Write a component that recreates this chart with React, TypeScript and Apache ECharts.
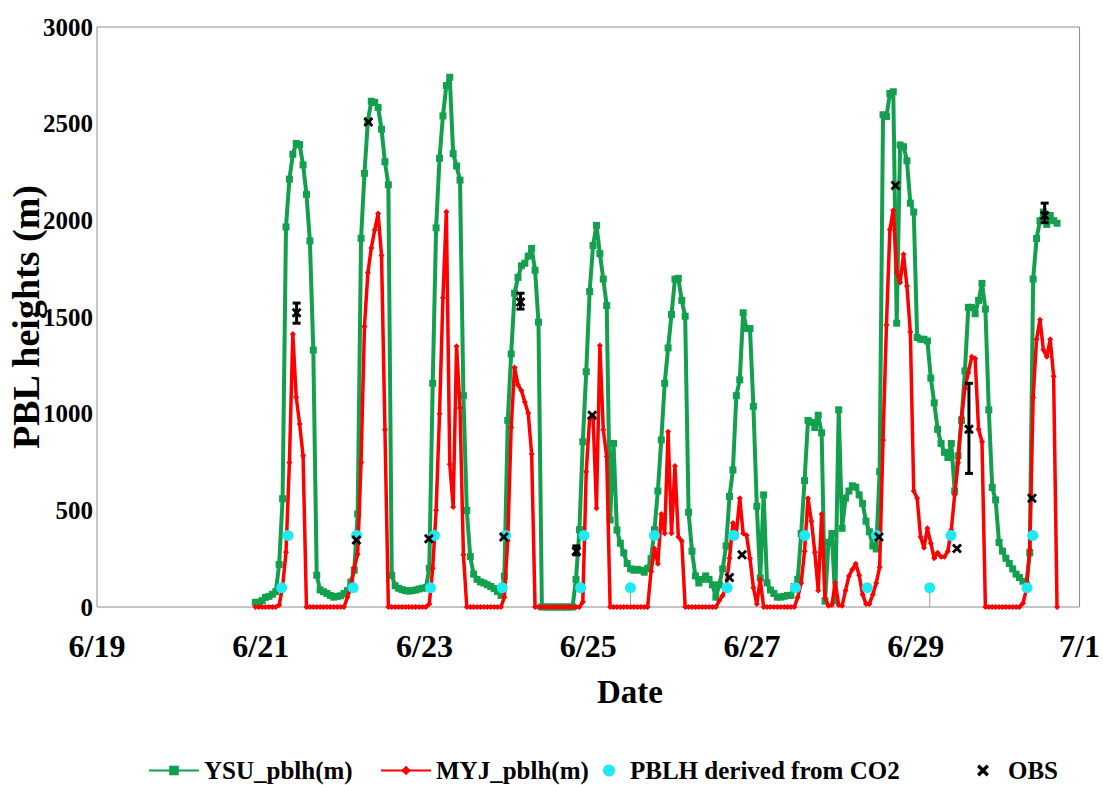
import { useEffect, useRef } from "react";
import * as echarts from "echarts";

// ---------- data ----------
const xTickLabels = ["6/19", "6/21", "6/23", "6/25", "6/27", "6/29", "7/1"];

// hourly model output, first value at 6/20 22:24 (days after 6/19 00:00)
const modelStartDay = 1.9333;

const ysuPblh = [
  24, 25, 33, 50, 55, 66, 79, 220, 560, 1966, 2213, 2342,
  2398, 2392, 2287, 2134, 1893, 1329, 164, 88, 79, 70, 60, 51,
  55, 58, 70, 85, 129, 190, 481, 1907, 2243, 2515, 2616, 2610,
  2584, 2471, 2303, 2184, 164, 110, 97, 90, 85, 82, 85, 88,
  93, 97, 100, 200, 1157, 1961, 2321, 2540, 2697, 2740, 2345, 2281,
  2208, 1093, 499, 261, 170, 143, 130, 124, 115, 106, 95, 80,
  60, 160, 965, 1309, 1623, 1705, 1765, 1778, 1815, 1855, 1742, 1473,
  0, 0, 0, 0, 0, 0, 0, 0, 0, 0, 143, 400,
  855, 1217, 1632, 1870, 1974, 1828, 1696, 1559, 450, 846, 398, 330,
  280, 225, 197, 190, 195, 190, 180, 200, 250, 400, 600, 864,
  1157, 1340, 1513, 1696, 1700, 1586, 1504, 490, 289, 161, 124, 143,
  161, 143, 115, 51, 115, 197, 316, 572, 709, 1093, 1175, 1522,
  1440, 1440, 1038, 521, 150, 580, 125, 88, 70, 51, 51, 55,
  60, 60, 106, 143, 380, 654, 965, 956, 928, 992, 901, 30,
  334, 380, 33, 1020, 407, 563, 600, 627, 620, 580, 535, 444,
  389, 316, 300, 700, 2546, 2537, 2656, 2665, 1468, 2390, 2381, 2308,
  2089, 2043, 1394, 1385, 1385, 1376, 1184, 1056, 919, 846, 800, 773,
  846, 600, 782, 965, 1221, 1550, 1550, 1517, 1586, 1674, 1541, 1020,
  618, 554, 334, 289, 252, 225, 197, 170, 152, 133, 115, 280,
  1696, 1906, 1998, 2043, 1979, 2025, 1998, 1985,
];

const myjPblh = [
  0, 0, 0, 0, 0, 0, 0, 10, 105, 283, 748, 1412,
  1085, 946, 782, 0, 0, 0, 0, 0, 0, 0, 0, 0,
  0, 0, 0, 50, 105, 204, 273, 748, 1451, 1729, 1857, 1950,
  2035, 1818, 917, 0, 0, 0, 0, 0, 0, 0, 0, 0,
  0, 0, 0, 16, 200, 500, 1000, 1600, 2045, 739, 517, 1349,
  1029, 270, 0, 0, 0, 0, 0, 0, 0, 0, 0, 0,
  0, 51, 344, 928, 1239, 1148, 1120, 1060, 1002, 791, 0, 0,
  0, 0, 0, 0, 0, 0, 0, 0, 0, 0, 0, 0,
  26, 699, 976, 986, 511, 1352, 917, 778, 0, 0, 0, 0,
  0, 0, 0, 0, 0, 0, 0, 0, 184, 303, 224, 481,
  380, 907, 382, 729, 362, 342, 0, 0, 0, 0, 0, 0,
  0, 0, 0, 0, 33, 60, 100, 252, 435, 380, 563, 380,
  371, 250, 100, 15, 143, 0, 0, 0, 0, 0, 0, 0,
  0, 0, 0, 51, 124, 289, 563, 444, 283, 85, 481, 46,
  6, 10, 125, 10, 6, 85, 160, 194, 224, 164, 65, 16,
  16, 65, 124, 206, 864, 1458, 1952, 2052, 1733, 1678, 1824, 1660,
  1422, 600, 563, 362, 307, 407, 330, 252, 280, 260, 260, 289,
  398, 581, 746, 983, 1129, 1212, 1294, 1285, 919, 855, 0, 0,
  0, 0, 0, 0, 0, 0, 0, 0, 0, 20, 88, 298,
  1084, 1385, 1486, 1330, 1294, 1385, 1193, 0,
];

const co2Days = [
  2.255, 2.333, 3.128, 3.17, 4.073, 4.12, 4.949, 4.99, 5.906, 5.947, 6.515,
  6.809, 7.695, 7.777, 8.531, 8.644, 9.407, 9.521, 10.17, 10.43, 11.358, 11.428,
];
const co2Pblh = [
  100, 370, 100, 370, 100, 370, 100, 370, 100, 370, 100,
  370, 100, 370, 100, 370, 100, 370, 100, 370, 100, 370,
];
// thin error bars visible below two CO2-derived points
const co2ErrDays = [6.515, 10.17];
const co2ErrLow = [0, 0];
const co2ErrHigh = [100, 100];

const obsDays = [
  2.438, 3.168, 3.314, 4.053, 4.969, 5.172, 5.854, 6.048, 7.724, 7.878, 9.55,
  9.752, 10.503, 10.649, 11.419, 11.574,
];
const obsPblh = [
  1522, 347, 2509, 353, 362, 1577, 289, 992, 152, 270, 362, 2180, 303, 919, 563,
  2025,
];
const obsLow = [
  1468, null, null, null, null, 1541, 270, null, null, null, null, null, null,
  691, null, 1988,
];
const obsHigh = [
  1572, null, null, null, null, 1623, 316, null, null, null, null, null, null,
  1157, null, 2089,
];

// ---------- style ----------
const GREEN = "#13A04E";
const RED = "#FF0000";
const CYAN = "#1FEAF2";
const FONT = "'Liberation Serif', 'Times New Roman', serif";
const X_PATH =
  "path://M2,0 L5,3 L8,0 L10,2 L7,5 L10,8 L8,10 L5,7 L2,10 L0,8 L3,5 L0,2 Z";

function errorBarRenderer(color: string, width: number, cap: number) {
  return (_params: any, api: any) => {
    const x = api.value(0);
    const p1 = api.coord([x, api.value(1)]);
    const p2 = api.coord([x, api.value(2)]);
    const style = { stroke: color, lineWidth: width };
    const children: any[] = [
      { type: "line", shape: { x1: p1[0], y1: p1[1], x2: p2[0], y2: p2[1] }, style },
    ];
    if (cap > 0) {
      children.push(
        { type: "line", shape: { x1: p1[0] - cap, y1: p1[1], x2: p1[0] + cap, y2: p1[1] }, style },
        { type: "line", shape: { x1: p2[0] - cap, y1: p2[1], x2: p2[0] + cap, y2: p2[1] }, style }
      );
    }
    return { type: "group", children };
  };
}

export default function App() {
  const ref = useRef<HTMLDivElement>(null);

  useEffect(() => {
    if (!ref.current) return;
    const chart = echarts.init(ref.current, null, { renderer: "svg" });

    const ysuData = ysuPblh.map((v, i) => [modelStartDay + i / 24, v]);
    const myjData = myjPblh.map((v, i) => [modelStartDay + i / 24, v]);
    const co2Data = co2Days.map((d, i) => [d, co2Pblh[i]]);
    const co2ErrData = co2ErrDays.map((d, i) => [d, co2ErrLow[i], co2ErrHigh[i]]);
    const obsData = obsDays.map((d, i) => [d, obsPblh[i]]);
    const obsErrData = obsDays
      .map((d, i) => [d, obsLow[i], obsHigh[i]])
      .filter((r) => r[1] !== null);

    const legendText = {
      fontFamily: FONT,
      fontWeight: "bold" as const,
      fontSize: 25,
      color: "#000",
    };
    const legendBase = {
      orient: "horizontal" as const,
      top: 753,
      itemHeight: 12,
      textStyle: legendText,
      selectedMode: false as const,
    };

    chart.setOption({
      animation: false,
      backgroundColor: "#fff",
      grid: {
        left: 97,
        right: 20,
        top: 27,
        bottom: 178,
        show: true,
        borderColor: "#8c8c8c",
        borderWidth: 1,
        backgroundColor: "transparent",
      },
      xAxis: {
        type: "value",
        min: 0,
        max: 12,
        interval: 2,
        axisLine: { show: false },
        axisTick: { show: false },
        splitLine: { show: false },
        axisLabel: {
          margin: 23,
          fontFamily: FONT,
          fontWeight: "bold",
          fontSize: 32,
          color: "#000",
          formatter: (v: number) => xTickLabels[Math.round(v / 2)] ?? "",
        },
      },
      yAxis: {
        type: "value",
        min: 0,
        max: 3000,
        interval: 500,
        axisLine: { show: false },
        axisTick: { show: false },
        splitLine: { show: false },
        axisLabel: {
          margin: 4,
          fontFamily: FONT,
          fontWeight: "bold",
          fontSize: 25,
          color: "#000",
          formatter: (v: number) => String(v),
        },
      },
      legend: [
        { ...legendBase, left: 143, itemWidth: 50, data: ["YSU_pblh(m)"] },
        { ...legendBase, left: 375, itemWidth: 50, data: ["MYJ_pblh(m)"] },
        { ...legendBase, left: 598, itemWidth: 32, data: ["PBLH derived from CO2"] },
        { ...legendBase, left: 972, itemWidth: 40, data: ["OBS"] },
      ],
      graphic: [
        {
          type: "text",
          x: 26,
          y: 317,
          rotation: Math.PI / 2,
          style: {
            text: "PBL heights (m)",
            font: `bold 38px ${FONT}`,
            fill: "#000",
            textAlign: "center",
            textVerticalAlign: "middle",
          },
        },
        {
          type: "text",
          x: 630,
          y: 692,
          style: {
            text: "Date",
            font: `bold 33px ${FONT}`,
            fill: "#000",
            textAlign: "center",
            textVerticalAlign: "middle",
          },
        },
      ],
      series: [
        {
          type: "custom",
          name: "co2 error",
          data: co2ErrData,
          encode: { x: 0, y: [1, 2] },
          renderItem: errorBarRenderer("#9a9a9a", 1, 0),
          z: 1,
          silent: true,
        },
        {
          name: "YSU_pblh(m)",
          type: "line",
          data: ysuData,
          symbol: "rect",
          symbolSize: 7,
          showAllSymbol: true,
          lineStyle: { color: GREEN, width: 4 },
          itemStyle: { color: GREEN },
          z: 2,
        },
        {
          name: "MYJ_pblh(m)",
          type: "line",
          data: myjData,
          symbol: "diamond",
          symbolSize: 6,
          showAllSymbol: true,
          lineStyle: { color: RED, width: 3.5 },
          itemStyle: { color: RED },
          z: 3,
        },
        {
          name: "PBLH derived from CO2",
          type: "scatter",
          data: co2Data,
          symbol: "circle",
          symbolSize: 11,
          itemStyle: { color: CYAN, opacity: 1 },
          z: 4,
        },
        {
          type: "custom",
          name: "obs error",
          data: obsErrData,
          encode: { x: 0, y: [1, 2] },
          renderItem: errorBarRenderer("#000", 3, 4),
          z: 5,
          silent: true,
        },
        {
          name: "OBS",
          type: "scatter",
          data: obsData,
          symbol: X_PATH,
          symbolSize: 10,
          itemStyle: { color: "#000", opacity: 1 },
          z: 6,
        },
      ],
    });

    return () => chart.dispose();
  }, []);

  return (
    <div
      ref={ref}
      style={{
        position: "fixed",
        left: 0,
        top: 0,
        width: 1103,
        height: 785,
        background: "#fff",
      }}
    />
  );
}
